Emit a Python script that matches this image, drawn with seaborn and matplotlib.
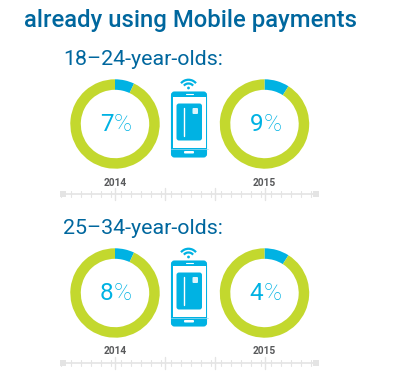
import matplotlib
matplotlib.use("Agg")
import matplotlib.pyplot as plt
from matplotlib.patches import FancyBboxPatch, Rectangle, Arc, Circle
import seaborn as sns

sns.set_theme(style="white")
plt.rcParams['font.family'] = ['Roboto', 'DejaVu Sans']

# --- Data ---
title = "already using Mobile payments"
groups = ["18\u201324-year-olds:", "25\u201334-year-olds:"]
years = ["2014", "2015"]
labels = [["7", "9"], ["8", "4"]]
# the wedges in the picture do not follow the printed labels on the second row
wedges = [[7, 9], [7, 9]]
minor_steps = [i * 10 for i in range(26)]
major_steps = [54, 104, 153.5, 203.5]

GREEN = "#C3D82E"
BLUE = "#00B2E3"
NAVY = "#00679E"
GREY = "#E4E4E4"
W, H = 420, 391

fig = plt.figure(figsize=(W / 100, H / 100), dpi=100)
ax = fig.add_axes([0, 0, 1, 1])
ax.set_xlim(0, W)
ax.set_ylim(H, 0)
ax.axis("off")


def donut(cx, cy, value, label):
    r = 44.7
    pie_ax = fig.add_axes([(cx - r) / W, 1 - (cy + r) / H, 2 * r / W, 2 * r / H])
    pie_ax.pie([value, 100 - value], colors=[BLUE, GREEN], startangle=90, counterclock=False,
               radius=1, wedgeprops=dict(width=0.235, linewidth=0))
    pie_ax.set_xlim(-1, 1)
    pie_ax.set_ylim(-1, 1)
    # digit regular, percent sign thin, as in the original
    pie_ax.text(-0.03, -0.02, label, ha="right", va="center", fontsize=17.5, color=BLUE)
    pie_ax.text(-0.03, -0.02, "%", ha="left", va="center", fontsize=17.5, color=BLUE, fontweight="light")


def phone(x0, y0):
    # body
    ax.add_patch(FancyBboxPatch((x0 + 1.5, y0 + 1.5), 34, 64, boxstyle="round,pad=0,rounding_size=2.5",
                                mutation_aspect=1, fc=BLUE, ec=BLUE, lw=1.5))
    ax.add_patch(Rectangle((x0 + 2, y0 + 5.5), 33.5, 51, fc="white", ec="none"))
    ax.plot([x0 + 15, x0 + 22], [y0 + 3, y0 + 3], color="white", lw=0.8)
    ax.plot([x0, x0 + 37], [y0 + 57.5, y0 + 57.5], color="#9BDDF2", lw=0.5)
    ax.add_patch(FancyBboxPatch((x0 + 13.5, y0 + 60), 10, 2.5, boxstyle="round,pad=0,rounding_size=1",
                                fc="white", ec="none"))
    # card
    ax.add_patch(FancyBboxPatch((x0 + 6, y0 + 12.5), 25.5, 37, boxstyle="round,pad=0,rounding_size=2.5",
                                fc=BLUE, ec="none"))
    ax.plot([x0 + 13, x0 + 13], [y0 + 17, y0 + 45], color="white", lw=1)
    ax.add_patch(FancyBboxPatch((x0 + 22, y0 + 17), 5.5, 6, boxstyle="round,pad=0,rounding_size=1",
                                fc="#DDF4FB", ec="none"))
    # wifi
    cx = x0 + 18
    cy = y0 - 1.5
    for d in [19.5, 12]:
        ax.add_patch(Arc((cx, cy), d, d, theta1=220, theta2=320, color=BLUE, lw=1.6))
    ax.add_patch(Circle((cx, cy - 1.5), 1.4, fc=BLUE, ec="none"))


def ruler(y):
    x0 = 61
    sns.lineplot(x=[x0, x0 + 257], y=[y, y], ax=ax, color=GREY, lw=1.2, legend=False)
    for s in minor_steps:
        ax.plot([x0 + s, x0 + s], [y - 3, y + 3], color=GREY, lw=0.8)
    for s in major_steps:
        ax.plot([x0 + s, x0 + s], [y - 6, y + 6.5], color=GREY, lw=1)
    sns.scatterplot(x=[x0 + 2, x0 + 255], y=[y, y], ax=ax, color=GREY, marker="s", s=22, linewidth=0, legend=False)


ax.text(24, 20.5, title, ha="left", va="center", fontsize=17.2, color=NAVY, fontweight="medium")

row_y = [124, 293]
for row, cy in enumerate(row_y):
    ax.text(63, cy - 64.5, groups[row], ha="left", va="center", fontsize=15.4, color=NAVY)
    for col, cx in enumerate([115, 264.5]):
        donut(cx, cy, wedges[row][col], labels[row][col])
        ax.text(cx, cy + 58.5, years[col], ha="center", va="center", fontsize=7.3,
                fontweight="bold", color="#58595B")
    phone(170.5, cy - 33)
    ruler(cy + 69.5)

ax.set_xlim(0, W)
ax.set_ylim(H, 0)
ax.axis("off")
fig.savefig("out.png", dpi=100)
